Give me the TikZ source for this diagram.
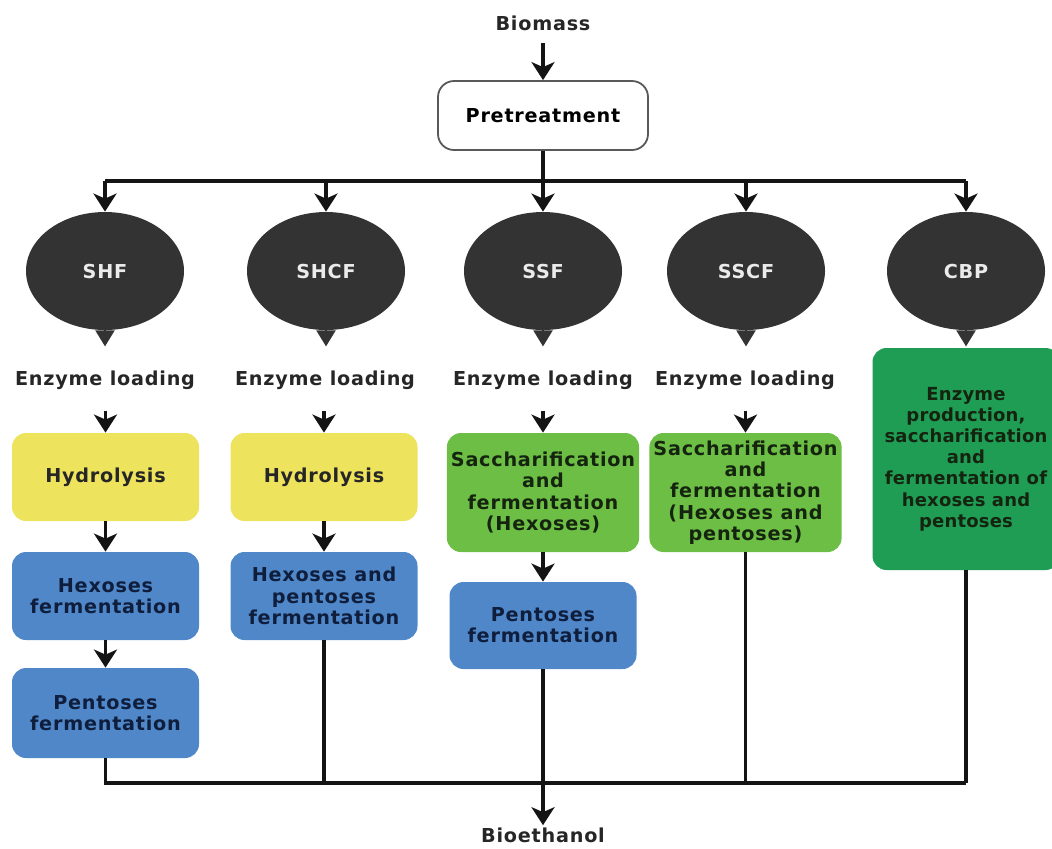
\documentclass[tikz,border=0pt]{standalone}
\usepackage{fontspec}
\setmainfont{DejaVu Sans}[LetterSpace=4]
\newfontfamily\cbpfont{DejaVu Sans}[LetterSpace=1]
\usetikzlibrary{arrows.meta,calc,shapes.geometric}
\definecolor{ycol}{HTML}{EDE35C}
\definecolor{bcol}{HTML}{4F87C8}
\definecolor{lgcol}{HTML}{6DBE45}
\definecolor{dgcol}{HTML}{1F9D55}
\definecolor{ecol}{HTML}{333333}
\definecolor{btxt}{HTML}{0F1E3C}
\definecolor{gtxt}{HTML}{15240F}
\begin{document}
\begin{tikzpicture}[x=0.5pt,y=-0.5pt,
  every node/.style={font=\bfseries\fontsize{9.6}{10.6}\selectfont, align=center},
  txt/.style={inner sep=1pt, text=black!85},
  ln/.style={line width=1.7pt, draw=black!92},
  arr/.style={ln, -{Stealth[length=9pt,width=11.5pt,inset=2.5pt]}},
  tri/.style={line width=1pt, draw=ecol, fill=ecol, -{Triangle[length=8pt,width=9.5pt]}},
  ell/.style={ellipse, fill=ecol, minimum width=79pt, minimum height=59pt, inner sep=0pt, text=white!92!black},
  boxbase/.style={rounded corners=7pt, minimum width=93.5pt, inner sep=2pt},
  ybox/.style={boxbase, fill=ycol, minimum height=44pt, text=black!85},
  bbox/.style={boxbase, fill=bcol, minimum height=44pt, text=btxt},
  gbox/.style={boxbase, fill=lgcol, minimum height=59.5pt, text=gtxt},
  cbox/.style={boxbase, fill=dgcol, minimum height=111pt, text=gtxt, font=\cbpfont\bfseries\fontsize{9}{10.6}\selectfont},
  prebox/.style={rounded corners=8pt, draw=black!65, line width=0.9pt, fill=white, minimum width=105pt, minimum height=34.5pt}
]
\useasboundingbox (0,0) rectangle (1052,848);

\node[txt] (bio) at (543,23) {Biomass};
\node[prebox] (pre) at (543,115.5) {Pretreatment};
\draw[arr] ($(bio.south)+(0,10)$) -- (pre);

% ellipses
\node[ell] (shf) at (105,271) {SHF};
\node[ell] (shcf) at (326,271) {SHCF};
\node[ell] (ssf) at (543,271) {SSF};
\node[ell] (sscf) at (746,271) {SSCF};
\node[ell] (cbp) at (966,271) {CBP};

\coordinate (busL) at (105,181);
\coordinate (busR) at (966,181);
\draw[ln] (busL) -- (busR);
\draw[arr] (pre) -- (ssf);
\draw[arr] (busL) -- (shf);
\draw[arr] (shcf |- busL) -- (shcf);
\draw[arr] (sscf |- busL) -- (sscf);
\draw[arr] (busR) -- (cbp);

\foreach \e in {shf,shcf,ssf,sscf,cbp}{
  \draw[tri] ($(\e.south)+(0,-6)$) -- ($(\e.south)+(0,16)$);
}

% enzyme loading labels
\node[txt] (el1) at (105,380) {Enzyme loading};
\node[txt] (el2) at (325,380) {Enzyme loading};
\node[txt] (el3) at (543,380) {Enzyme loading};
\node[txt] (el4) at (745,380) {Enzyme loading};

% SHF column
\node[ybox] (h1) at (105.5,477) {Hydrolysis};
\node[bbox] (f1) at (105.5,596) {Hexoses\\fermentation};
\node[bbox, minimum height=45pt] (p1) at (105.5,713) {Pentoses\\fermentation};
% SHCF column
\node[ybox] (h2) at (324,477) {Hydrolysis};
\node[bbox] (f2) at (324,596) {Hexoses and\\pentoses\\fermentation};
% SSF column
\node[gbox] (s3) at (543,492.5) {Saccharification\\and\\fermentation\\(Hexoses)};
\node[bbox, minimum height=43.5pt] (p3) at (543,625.5) {Pentoses\\fermentation};
% SSCF column
\node[gbox] (s4) at (745.5,492.5) {Saccharification\\and\\fermentation\\(Hexoses and\\pentoses)};
% CBP column
\node[cbox] (c5) at (966,459) {Enzyme\\production,\\saccharification\\and\\fermentation of\\hexoses and\\pentoses};

% arrows from enzyme loading
\foreach \b in {h1,h2,s3,s4}{
  \draw[arr] ($(\b.north)+(0,-22)$) -- (\b.north);
}
\draw[arr] (h1) -- (f1);
\draw[arr] (f1) -- (p1);
\draw[arr] (h2) -- (f2);
\draw[arr] (s3) -- (p3);

% bottom collection
\coordinate (botL) at (105.5,783);
\coordinate (botR) at (966,783);
\node[txt] (eth) at (543,835) {Bioethanol};
\draw[ln] (p1.south) -- (botL) -- (botR);
\draw[ln] (f2.south) -- (f2.south |- botL);
\draw[ln] (s4.south) -- (s4.south |- botL);
\draw[ln] (c5.south) -- (botR);
\draw[arr] (p3) -- (eth);
\end{tikzpicture}
\end{document}
